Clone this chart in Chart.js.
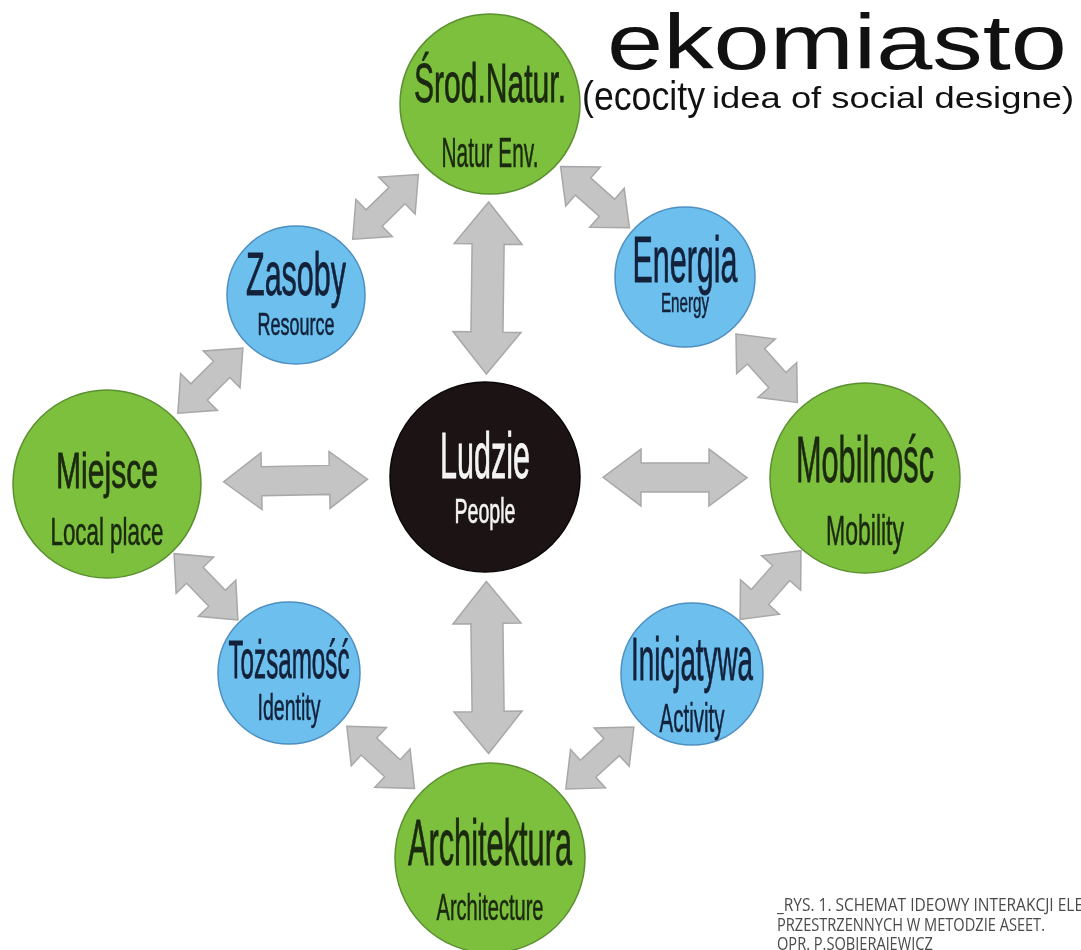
<!DOCTYPE html>
<html>
<head>
<meta charset="utf-8">
<script src="https://cdn.jsdelivr.net/npm/chart.js@4.4.0/dist/chart.umd.min.js"></script>
<style>
body { margin: 0; background: #fff; }
#wrap { position: relative; width: 1081px; height: 950px; }
</style>
</head>
<body>
<div id="wrap"><canvas id="diagram"></canvas></div>
<script>
// węzły schematu (x: 0..108.1, y: 0..95, y rośnie w dół)
const nodeNames = ['Środ.Natur.', 'Zasoby', 'Energia', 'Miejsce', 'Ludzie', 'Mobilnośc', 'Tożsamość', 'Inicjatywa', 'Architektura'];
const nodeSubNames = ['Natur Env.', 'Resource', 'Energy', 'Local place', 'People', 'Mobility', 'Identity', 'Activity', 'Architecture'];
const nodeX = [49.0, 29.6, 68.5, 10.7, 48.5, 86.5, 28.9, 69.2, 49.0];
const nodeY = [10.4, 29.5, 27.7, 48.4, 47.7, 47.8, 67.3, 67.4, 85.8];
const nodeRadius = [90, 69, 70, 94, 95, 95, 71, 71, 95];
const nodeGroup = ['green', 'blue', 'blue', 'green', 'black', 'green', 'blue', 'blue', 'green'];

// podwójne strzałki między węzłami
const linkFrom = [0, 4, 3, 4, 1, 0, 3, 2, 6, 5, 8, 8];
const linkTo   = [4, 8, 4, 5, 0, 2, 1, 5, 3, 7, 6, 7];

const titleText = 'ekomiasto';
const subtitleBig = '(ecocity';
const subtitleSmall = 'idea of social designe)';
const captionLines = ['_RYS. 1. SCHEMAT IDEOWY INTERAKCJI ELE', 'PRZESTRZENNYCH W METODZIE ASEET.', 'OPR. P.SOBIERAJEWICZ'];

// wygląd
const fills = { green: '#7cc03d', blue: '#6dc0ee', black: '#1c1414' };
const borders = { green: '#5c8f30', blue: '#4e8fc2', black: '#0a0606' };
const inks = { green: '#1b2910', blue: '#13213a', black: '#f4f4f4' };
// wysokość wersalików, szerokość i linia bazowa napisów względem środka koła
const labelStyle = [
    { cap: 40, width: 152, base: -2, subCap: 31, subWidth: 97, subBase: 63 },
    { cap: 44, width: 100, base: 0, subCap: 22, subWidth: 77, subBase: 40 },
    { cap: 47, width: 105, base: 5, subCap: 20, subWidth: 48, subBase: 35 },
    { cap: 36, width: 102, base: 4, subCap: 28, subWidth: 113, subBase: 61 },
    { cap: 47, width: 90, base: 1, subCap: 25, subWidth: 61, subBase: 46 },
    { cap: 47, width: 138, base: 4, subCap: 31, subWidth: 78, subBase: 67 },
    { cap: 38, width: 121, base: 5, subCap: 27, subWidth: 63, subBase: 47 },
    { cap: 44, width: 122, base: 6, subCap: 29, subWidth: 65, subBase: 58 },
    { cap: 46, width: 164, base: 7, subCap: 27, subWidth: 107, subBase: 62 }
];
const FONT = '"Liberation Sans", Arial, sans-serif';

function fitText(ctx, text, x, y, cap, width, align, heavy) {
    ctx.font = (cap / 0.716).toFixed(1) + 'px ' + FONT;
    const sx = width / ctx.measureText(text).width;
    ctx.save();
    ctx.translate(x, y);
    ctx.scale(sx, 1);
    ctx.textAlign = align || 'center';
    ctx.fillText(text, 0, 0);
    if (heavy) {
        ctx.strokeStyle = ctx.fillStyle;
        ctx.lineWidth = heavy;
        ctx.strokeText(text, 0, 0);
    }
    ctx.restore();
}

function drawArrow(ctx, x1, y1, x2, y2, shaft, head, headLen) {
    const len = Math.hypot(x2 - x1, y2 - y1);
    const s = shaft / 2, h = head / 2;
    ctx.save();
    ctx.translate(x1, y1);
    ctx.rotate(Math.atan2(y2 - y1, x2 - x1));
    ctx.beginPath();
    ctx.moveTo(0, 0);
    ctx.lineTo(headLen, -h);
    ctx.lineTo(headLen, -s);
    ctx.lineTo(len - headLen, -s);
    ctx.lineTo(len - headLen, -h);
    ctx.lineTo(len, 0);
    ctx.lineTo(len - headLen, h);
    ctx.lineTo(len - headLen, s);
    ctx.lineTo(headLen, s);
    ctx.lineTo(headLen, h);
    ctx.closePath();
    ctx.fillStyle = '#c4c4c4';
    ctx.fill();
    ctx.strokeStyle = '#a8a8a8';
    ctx.lineWidth = 1.5;
    ctx.stroke();
    ctx.restore();
}

const arrowPlugin = {
    id: 'arrows',
    beforeDatasetsDraw(chart) {
        const ctx = chart.ctx;
        const xs = chart.scales.x, ys = chart.scales.y;
        for (let i = 0; i < linkFrom.length; i++) {
            const a = linkFrom[i], b = linkTo[i];
            const ax = xs.getPixelForValue(nodeX[a]), ay = ys.getPixelForValue(nodeY[a]);
            const bx = xs.getPixelForValue(nodeX[b]), by = ys.getPixelForValue(nodeY[b]);
            const dist = Math.hypot(bx - ax, by - ay);
            const ux = (bx - ax) / dist, uy = (by - ay) / dist;
            // środek odcinka między brzegami kół
            const mid = (nodeRadius[a] + dist - nodeRadius[b]) / 2;
            const mx = ax + ux * mid, my = ay + uy * mid;
            const spoke = a === 4 || b === 4;
            let len, shaft, head, headLen;
            if (spoke && Math.abs(ux) < 0.3) {
                len = 172; shaft = 32; head = 68; headLen = 42;
            } else if (spoke) {
                len = 144; shaft = 29; head = 57; headLen = 38;
            } else {
                len = 92; shaft = 23; head = 52; headLen = 30;
            }
            drawArrow(ctx, mx - ux * len / 2, my - uy * len / 2, mx + ux * len / 2, my + uy * len / 2, shaft, head, headLen);
        }
    }
};

const textPlugin = {
    id: 'texts',
    afterDatasetsDraw(chart) {
        const ctx = chart.ctx;
        const xs = chart.scales.x, ys = chart.scales.y;
        ctx.save();
        ctx.textBaseline = 'alphabetic';
        nodeNames.forEach((name, i) => {
            const st = labelStyle[i];
            const cx = xs.getPixelForValue(nodeX[i]), cy = ys.getPixelForValue(nodeY[i]);
            ctx.fillStyle = inks[nodeGroup[i]];
            fitText(ctx, name, cx, cy + st.base, st.cap, st.width, 'center', 0.8);
            fitText(ctx, nodeSubNames[i], cx, cy + st.subBase, st.subCap, st.subWidth, 'center', 0.6);
        });

        // tytuł
        ctx.fillStyle = '#111';
        fitText(ctx, titleText, 607, 69, 56, 460, 'left');
        fitText(ctx, subtitleBig, 582, 110, 29, 123, 'left');
        fitText(ctx, subtitleSmall, 712, 108, 21, 362, 'left');

        // podpis
        ctx.fillStyle = '#4a4a4a';
        ctx.font = '19px "Open Sans", sans-serif';
        const sx = 268 / ctx.measureText(captionLines[1]).width;
        const sx0 = 306 / ctx.measureText(captionLines[0]).width;
        captionLines.forEach((line, i) => {
            ctx.save();
            ctx.translate(777, 911 + i * 19.5);
            ctx.scale(i === 0 ? sx0 : sx, 1);
            ctx.textAlign = 'left';
            ctx.fillText(line, 0, 0);
            ctx.restore();
        });
        ctx.restore();
    }
};

new Chart(document.getElementById('diagram'), {
    type: 'bubble',
    data: {
        datasets: [{
            data: nodeNames.map((n, i) => ({ x: nodeX[i], y: nodeY[i], r: nodeRadius[i] })),
            backgroundColor: c => fills[nodeGroup[c.dataIndex]],
            borderColor: c => borders[nodeGroup[c.dataIndex]],
            borderWidth: 1.5,
            clip: false
        }]
    },
    options: {
        responsive: true,
        maintainAspectRatio: false,
        animation: false,
        events: [],
        layout: { padding: 0, autoPadding: false },
        plugins: { legend: { display: false }, tooltip: { enabled: false } },
        scales: {
            x: { type: 'linear', min: 0, max: 108.1, display: false },
            y: { type: 'linear', min: 0, max: 95, reverse: true, display: false }
        }
    },
    plugins: [arrowPlugin, textPlugin]
});
</script>
</body>
</html>
